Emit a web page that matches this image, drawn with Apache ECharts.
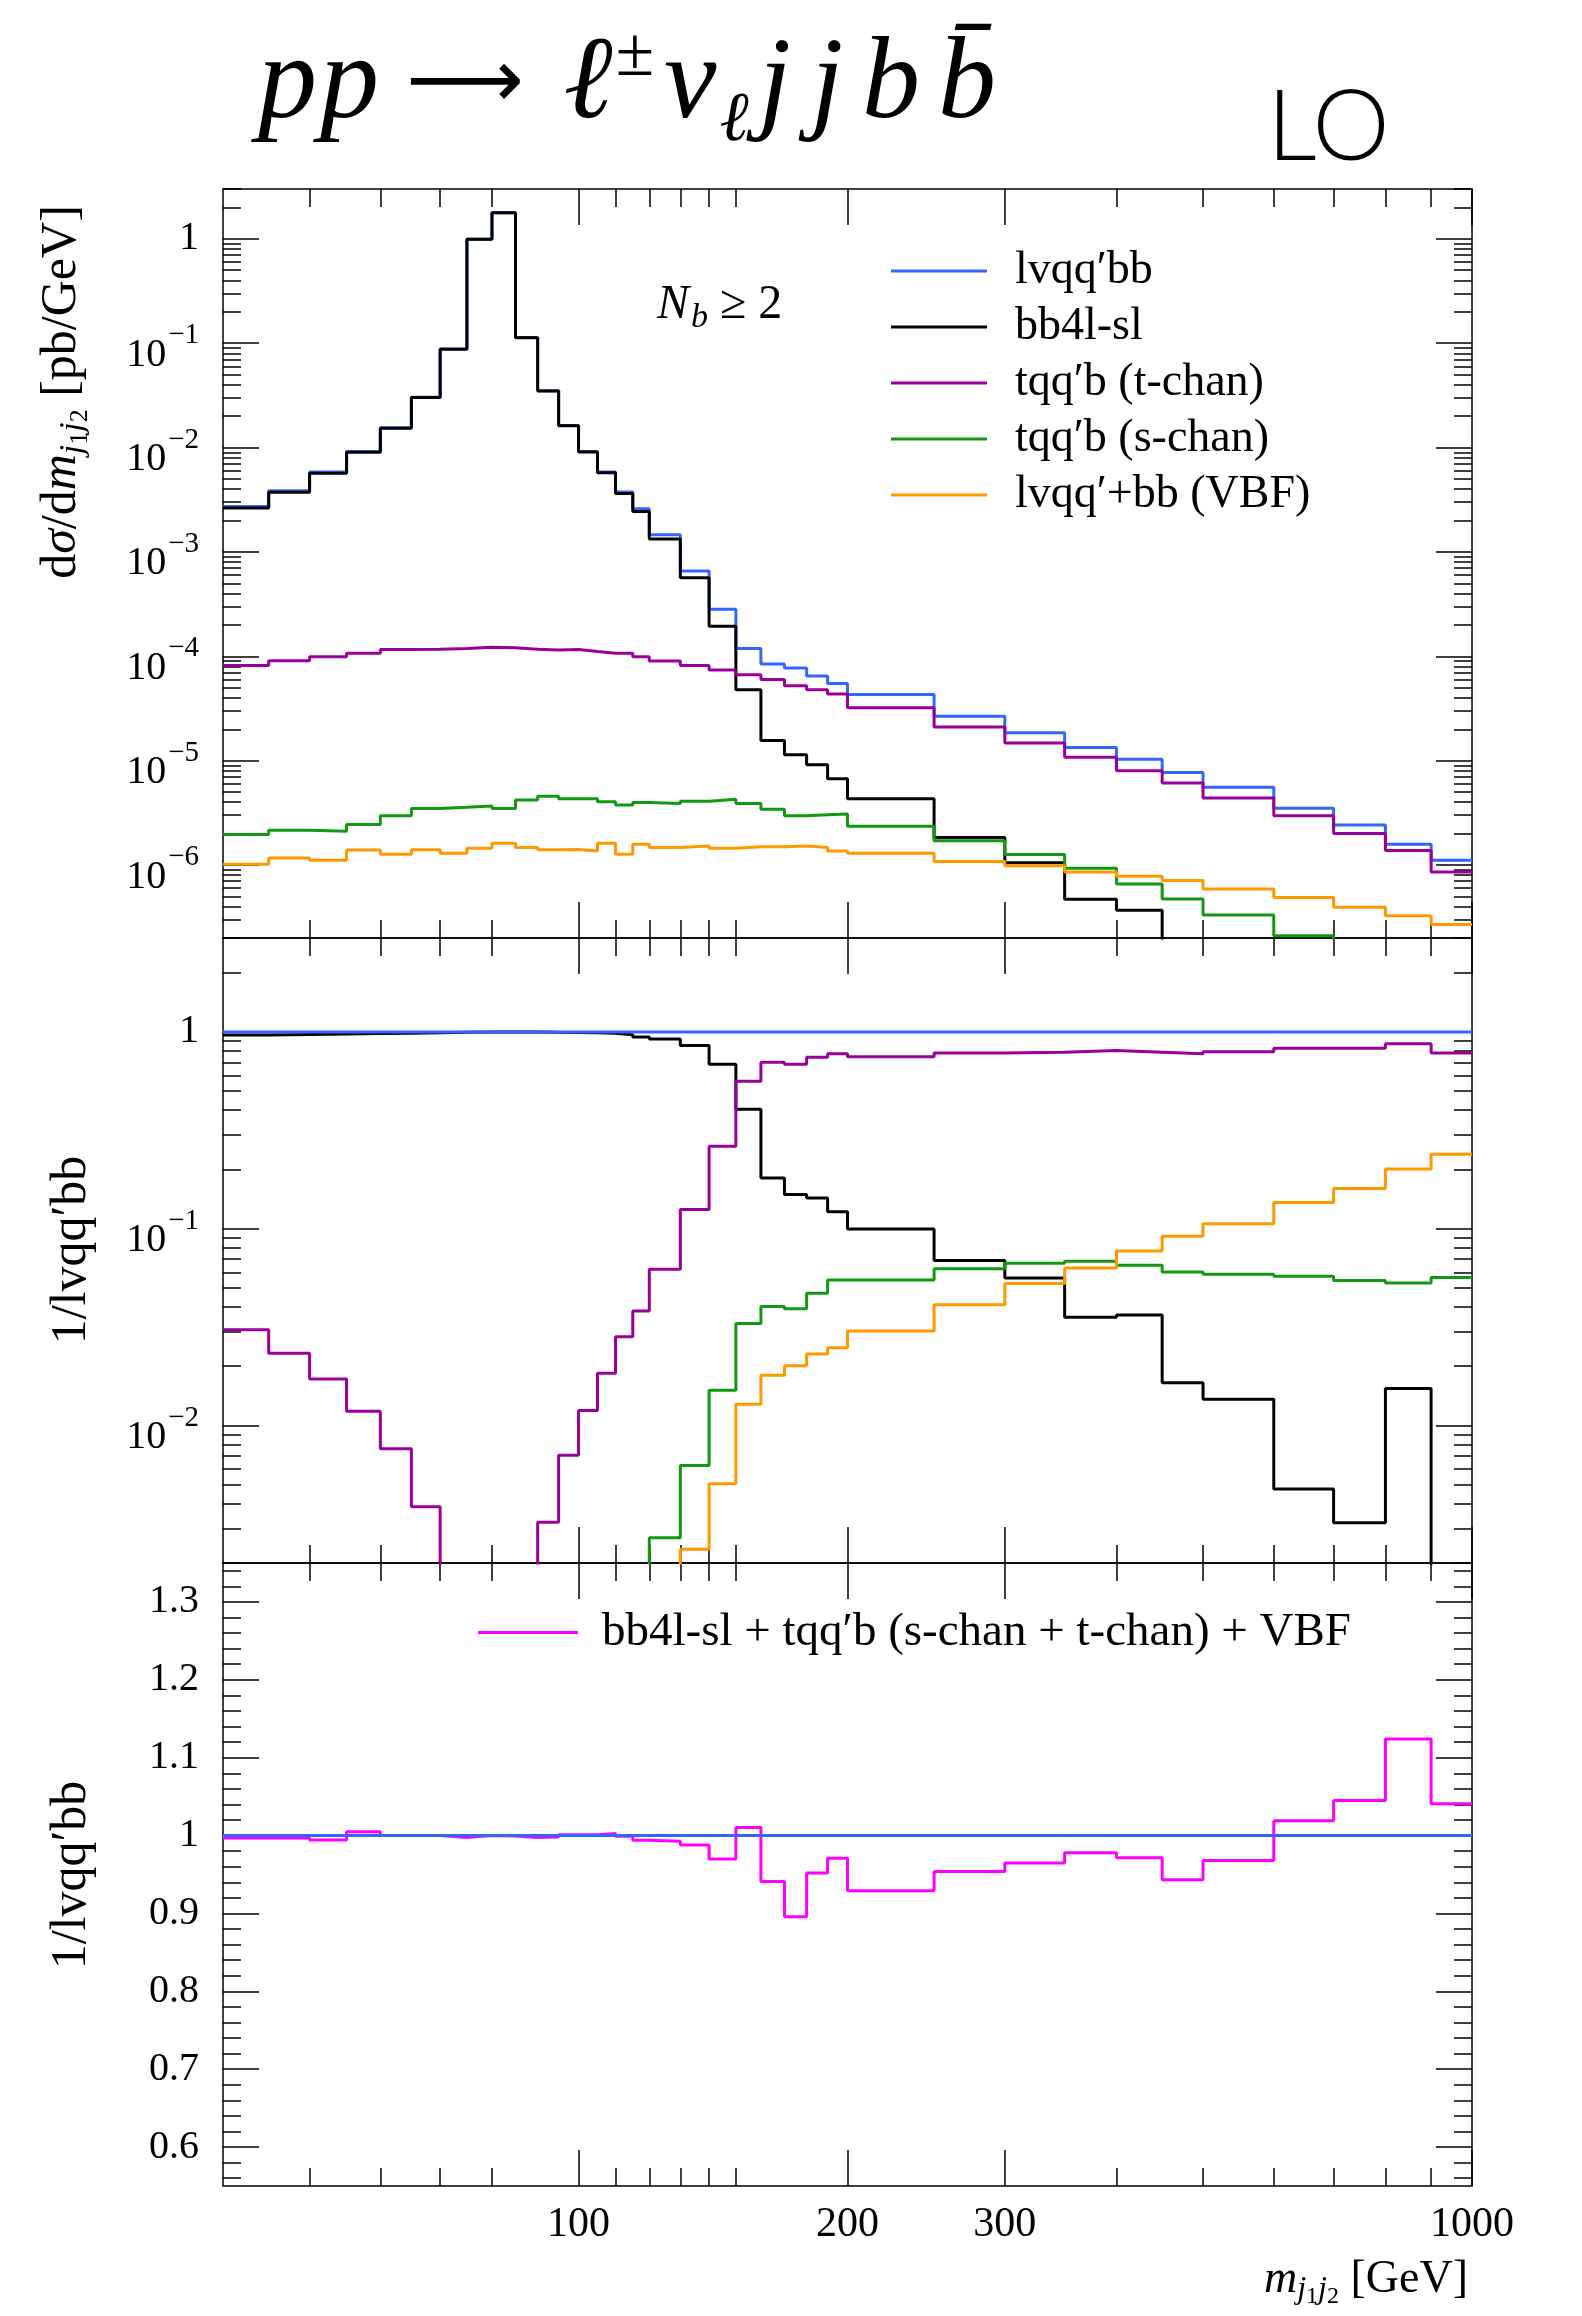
<!DOCTYPE html>
<html>
<head>
<meta charset="utf-8">
<script src="https://cdn.jsdelivr.net/npm/echarts@6/dist/echarts.min.js"></script>
<style>
  html, body { margin: 0; padding: 0; background: #fff; }
  #chart { width: 1582px; height: 2316px; }
</style>
</head>
<body>
<div id="chart"></div>
<script>
// bin edges in m_j1j2 [GeV]
const binEdges = [40, 45, 50, 55, 60, 65, 70, 75, 80, 85, 90, 95, 100, 105, 110, 115, 120,
  130, 140, 150, 160, 170, 180, 190, 200, 250, 300, 350, 400, 450, 500, 600, 700, 800, 900, 1000];

// dsigma/dm [pb/GeV], one value per bin
const lvqqbb = [2.73e-3, 3.86e-3, 5.83e-3, 9.17e-3, 1.55e-2, 3.04e-2, 8.79e-2, 0.992, 1.78, 0.1132,
  3.51e-2, 1.63e-2, 9.17e-3, 5.83e-3, 3.76e-3, 2.59e-3, 1.46e-3, 6.56e-4, 2.82e-4, 1.19e-4,
  8.43e-5, 7.74e-5, 6.46e-5, 5.50e-5, 4.30e-5, 2.66e-5, 1.85e-5, 1.34e-5, 1.03e-5, 7.7e-6,
  5.55e-6, 3.51e-6, 2.42e-6, 1.58e-6, 1.11e-6];
const bb4lsl = [2.63e-3, 3.74e-3, 5.68e-3, 8.99e-3, 1.53e-2, 3.01e-2, 8.75e-2, 0.99, 1.78, 0.113,
  3.49e-2, 1.62e-2, 9.08e-3, 5.74e-3, 3.63e-3, 2.44e-3, 1.33e-3, 5.65e-4, 1.94e-4, 4.79e-5,
  1.56e-5, 1.14e-5, 9.14e-6, 6.70e-6, 4.32e-6, 1.84e-6, 1.05e-6, 4.7e-7, 3.68e-7, 1.3e-7,
  7.5e-8, 1.7e-8, 7.7e-9, 2.4e-8, 1e-12];
const tchan = [8.16e-5, 9.08e-5, 9.89e-5, 1.07e-4, 1.16e-4, 1.17e-4, 1.19e-4, 1.22e-4, 1.21e-4, 1.17e-4,
  1.15e-4, 1.16e-4, 1.11e-4, 1.07e-4, 1.07e-4, 9.89e-5, 8.99e-5, 8.16e-5, 7.41e-5, 6.67e-5,
  5.99e-5, 5.21e-5, 4.79e-5, 4.35e-5, 3.22e-5, 2.10e-5, 1.48e-5, 1.08e-5, 8.0e-6, 6.1e-6,
  4.38e-6, 2.97e-6, 2.01e-6, 1.38e-6, 8.6e-7];
const schan = [1.96e-6, 2.16e-6, 2.11e-6, 2.45e-6, 2.97e-6, 3.49e-6, 3.57e-6, 3.68e-6, 3.49e-6, 4.19e-6,
  4.56e-6, 4.32e-6, 4.32e-6, 4.04e-6, 3.76e-6, 3.97e-6, 3.88e-6, 4.09e-6, 4.27e-6, 3.88e-6,
  3.42e-6, 2.97e-6, 3.04e-6, 3.08e-6, 2.35e-6, 1.71e-6, 1.26e-6, 9.3e-7, 6.58e-7, 4.73e-7,
  3.33e-7, 2.1e-7, 1.31e-7, 8.4e-8, 6.3e-8];
const vbf = [1.02e-6, 1.17e-6, 1.11e-6, 1.39e-6, 1.27e-6, 1.40e-6, 1.30e-6, 1.45e-6, 1.62e-6, 1.47e-6,
  1.40e-6, 1.41e-6, 1.36e-6, 1.62e-6, 1.27e-6, 1.58e-6, 1.47e-6, 1.52e-6, 1.45e-6, 1.50e-6,
  1.50e-6, 1.52e-6, 1.47e-6, 1.36e-6, 1.30e-6, 1.08e-6, 9.85e-7, 8.6e-7, 7.8e-7, 7.1e-7,
  5.89e-7, 4.9e-7, 3.94e-7, 3.26e-7, 2.69e-7];

// ratios to lvqq'bb (middle panel)
const ratioLvqqbb = [1, 1, 1, 1, 1, 1, 1, 1, 1, 1, 1, 1, 1, 1, 1, 1, 1, 1, 1, 1,
  1, 1, 1, 1, 1, 1, 1, 1, 1, 1, 1, 1, 1, 1, 1];
const ratioBb4l = [0.965, 0.97, 0.975, 0.98, 0.985, 0.99, 0.995, 0.998, 0.999, 0.998,
  0.995, 0.993, 0.99, 0.985, 0.966, 0.943, 0.92, 0.854, 0.684, 0.404,
  0.181, 0.149, 0.143, 0.122, 0.0996, 0.069, 0.0562, 0.0355, 0.0364, 0.0165,
  0.0136, 0.00475, 0.0032, 0.0154, 1e-5];
const ratioTchan = [0.0306, 0.0233, 0.0172, 0.0118, 0.00762, 0.00386, 0.0013, 0.00012, 0.000068, 0.00104,
  0.00322, 0.00705, 0.0119, 0.0184, 0.0282, 0.0382, 0.0622, 0.125, 0.262, 0.562,
  0.701, 0.684, 0.744, 0.774, 0.748, 0.782, 0.789, 0.805, 0.789, 0.774,
  0.793, 0.825, 0.825, 0.871, 0.782];
const ratioSchan = [7.2e-4, 5.6e-4, 3.6e-4, 2.7e-4, 1.9e-4, 1.15e-4, 4.1e-5, 3.7e-6, 2.0e-6, 3.7e-5,
  1.3e-4, 2.65e-4, 4.7e-4, 6.9e-4, 1.0e-3, 1.53e-3, 0.00269, 0.00626, 0.0151, 0.033,
  0.0402, 0.0392, 0.047, 0.0548, 0.0548, 0.0626, 0.0667, 0.0684, 0.0651, 0.0602,
  0.0587, 0.0573, 0.0545, 0.053, 0.0564];
const ratioVbf = [3.7e-4, 3.0e-4, 1.9e-4, 1.5e-4, 8.2e-5, 4.6e-5, 1.5e-5, 1.5e-6, 9e-7, 1.3e-5,
  4e-5, 8.7e-5, 1.5e-4, 2.8e-4, 3.4e-4, 6.1e-4, 1.0e-3, 0.00235, 0.00506, 0.0128,
  0.018, 0.0201, 0.0231, 0.0248, 0.0302, 0.041, 0.0527, 0.0632, 0.077, 0.0915,
  0.106, 0.136, 0.16, 0.201, 0.239];

// sum of contributions / lvqq'bb (bottom panel)
const ratioSum = [0.997, 0.997, 0.9944, 1.005, 1.0, 1.0, 0.9975, 1.0, 0.9995, 0.9975,
  0.998, 1.001, 1.001, 1.0025, 0.999, 0.994, 0.9926, 0.988, 0.970, 1.0105,
  0.941, 0.8956, 0.952, 0.971, 0.929, 0.9537, 0.9648, 0.9778, 0.9716, 0.9432,
  0.9679, 1.0191, 1.045, 1.124, 1.0408];

// ticks
const xMajorTicks = [100, 200, 300, 1000];
const xMinorTicks = [50, 60, 70, 80, 110, 120, 130, 140, 150, 400, 500, 600, 700, 800, 900];
const xTickLabels = [100, 200, 300, 1000];
const mainDecades = [-6, -5, -4, -3, -2, -1, 0];
const ratioDecades = [-2, -1, 0];
const sumTickLabels = [0.6, 0.7, 0.8, 0.9, 1.0, 1.1, 1.2, 1.3];

const SERIF = "'Liberation Serif', 'Times New Roman', serif";
const C_BLUE = '#3366ff', C_BLACK = '#000000', C_PURPLE = '#990099',
  C_GREEN = '#119911', C_ORANGE = '#ff9900', C_MAGENTA = '#ff00ff';

const chart = echarts.init(document.getElementById('chart'));

// panel geometry
const panels = [
  { top: 189, height: 749 },
  { top: 938, height: 625 },
  { top: 1563, height: 623 }
];
const yLimits = [[2e-7, 3], [2e-3, 3], [0.55, 1.35]];
const yRange = [
  [Math.log10(2e-7), Math.log10(3)],
  [Math.log10(2e-3), Math.log10(3)],
  [0.55, 1.35]
];

function logMinor(lo, hi) {
  const out = [];
  for (let k = -8; k <= 1; k++) {
    for (let m = 2; m <= 9; m++) {
      const v = m * Math.pow(10, k);
      if (v >= lo * 0.999 && v <= hi * 1.001) out.push(Math.log10(v));
    }
  }
  return out;
}
const sumMinor = [];
for (let k = 28; k <= 67; k++) if (k % 5 !== 0) sumMinor.push(k * 0.02);

function histo(values) {
  const pts = values.map((v, i) => [binEdges[i], v]);
  pts.push([binEdges[binEdges.length - 1], values[values.length - 1]]);
  return pts;
}

function line(name, values, color, p) {
  return {
    type: 'line', name: name, xAxisIndex: p, yAxisIndex: p,
    data: histo(values), step: 'end', symbol: 'none', showSymbol: false,
    color: color, lineStyle: { color: color, width: 3 }, itemStyle: { color: color },
    clip: true, silent: true
  };
}

const logLabel = v => {
  const n = Math.round(v);
  return n === 0 ? '1' : '{b|10}{s|\u2212' + (-n) + '}';
};
const labelRich = {
  b: { fontFamily: SERIF, fontSize: 40, lineHeight: 40, color: '#000', padding: [24, 0, 0, 0] },
  s: { fontFamily: SERIF, fontSize: 29, lineHeight: 29, color: '#000', padding: [10, 0, 25, 2] }
};

const xAxis = [], yAxis = [];
panels.forEach((pn, p) => {
  xAxis.push({ type: 'log', logBase: 10, gridIndex: p, min: 40, max: 1000, show: false,
    axisLine: { onZero: false } });
  if (p < 2) {
    yAxis.push({ type: 'log', logBase: 10, gridIndex: p, min: yLimits[p][0], max: yLimits[p][1], show: false,
      axisLine: { onZero: false } });
  } else {
    yAxis.push({ type: 'value', gridIndex: p, min: 0.55, max: 1.35, show: false,
      axisLine: { onZero: false } });
  }
});

function tickAxis(dim, p, pos, vals, len, label) {
  const r = dim === 'x' ? [Math.log10(40), 3] : yRange[p];
  return {
    type: 'value', gridIndex: p, position: pos, min: r[0], max: r[1],
    axisLine: { show: false, onZero: false }, splitLine: { show: false },
    axisTick: { show: true, inside: true, length: len, customValues: vals, lineStyle: { color: '#000', width: 1.5 } },
    axisLabel: label || { show: false }
  };
}

panels.forEach((pn, p) => {
  const xMaj = xMajorTicks.map(Math.log10), xMin = xMinorTicks.map(Math.log10);
  const xLab = p === 2 ? {
    show: true, customValues: xTickLabels.map(Math.log10), margin: 18,
    formatter: v => String(Math.round(Math.pow(10, v))),
    fontFamily: SERIF, fontSize: 42, color: '#000'
  } : null;
  xAxis.push(tickAxis('x', p, 'bottom', xMaj, 36, xLab));
  xAxis.push(tickAxis('x', p, 'bottom', xMin, 18));
  xAxis.push(tickAxis('x', p, 'top', xMaj, 36));
  xAxis.push(tickAxis('x', p, 'top', xMin, 18));

  let yMaj, yMin, yLab;
  if (p < 2) {
    yMaj = p === 0 ? mainDecades : ratioDecades;
    yMin = logMinor(yLimits[p][0], yLimits[p][1]);
    yLab = {
      show: true, customValues: yMaj, margin: 24, formatter: logLabel, rich: labelRich,
      fontFamily: SERIF, fontSize: 40, lineHeight: 40, color: '#000'
    };
  } else {
    yMaj = sumTickLabels;
    yMin = sumMinor;
    yLab = {
      show: true, customValues: sumTickLabels, margin: 24,
      formatter: v => (Math.abs(v - 1) < 1e-9 ? '1' : v.toFixed(1)),
      fontFamily: SERIF, fontSize: 40, color: '#000'
    };
  }
  yAxis.push(tickAxis('y', p, 'left', yMaj, 36, yLab));
  yAxis.push(tickAxis('y', p, 'left', yMin, 18));
  yAxis.push(tickAxis('y', p, 'right', yMaj, 36));
  yAxis.push(tickAxis('y', p, 'right', yMin, 18));
});

const N_LVQQ = 'lvqq\u2032bb', N_BB4L = 'bb4l-sl', N_T = 'tqq\u2032b (t-chan)',
  N_S = 'tqq\u2032b (s-chan)', N_VBF = 'lvqq\u2032+bb (VBF)',
  N_SUM = 'bb4l-sl + tqq\u2032b (s-chan + t-chan) + VBF';

const series = [
  line(N_LVQQ, lvqqbb, C_BLUE, 0),
  line(N_BB4L, bb4lsl, C_BLACK, 0),
  line(N_T, tchan, C_PURPLE, 0),
  line(N_S, schan, C_GREEN, 0),
  line(N_VBF, vbf, C_ORANGE, 0),
  line(N_BB4L, ratioBb4l, C_BLACK, 1),
  line(N_T, ratioTchan, C_PURPLE, 1),
  line(N_S, ratioSchan, C_GREEN, 1),
  line(N_VBF, ratioVbf, C_ORANGE, 1),
  line(N_LVQQ, ratioLvqqbb, C_BLUE, 1),
  line(N_SUM, ratioSum, C_MAGENTA, 2),
  line(N_LVQQ, ratioLvqqbb, C_BLUE, 2)
];

const tok = o => Object.assign({ fontFamily: SERIF, fill: '#000' }, o);

const yNameRich = {
  r: tok({ fontSize: 50, lineHeight: 50 }),
  i: tok({ fontSize: 50, lineHeight: 50, fontStyle: 'italic' }),
  si: tok({ fontSize: 34, lineHeight: 34, fontStyle: 'italic', padding: [22, 0, 0, 0] }),
  ss: tok({ fontSize: 26, lineHeight: 26, padding: [36, 0, 0, 0] })
};
const xNameRich = {
  r: tok({ fontSize: 46, lineHeight: 46 }),
  i: tok({ fontSize: 46, lineHeight: 46, fontStyle: 'italic' }),
  si: tok({ fontSize: 32, lineHeight: 32, fontStyle: 'italic', padding: [20, 0, 0, 0] }),
  ss: tok({ fontSize: 24, lineHeight: 24, padding: [34, 0, 0, 0] })
};

const graphic = [
  {
    type: 'text', x: 258, y: 86, silent: true,
    style: {
      text: '{m|p}{m|p}{a|\u27f6}{m|\u2113}{sup|\u00b1}{m|\u03bd}{sub|\u2113}{mj|j}{mj|j}{mb|b}{mb|b\u0304}',
      verticalAlign: 'middle', align: 'left', fill: '#000',
      rich: {
        m: tok({ fontSize: 118, lineHeight: 116, fontStyle: 'italic', padding: [0, 3, 0, 0] }),
        mb: tok({ fontSize: 116, lineHeight: 116, fontStyle: 'italic', padding: [0, 9, 0, 9] }),
        mj: tok({ fontSize: 116, lineHeight: 116, fontStyle: 'italic', padding: [0, 10, 0, 10] }),
        a: tok({ fontFamily: "'DejaVu Sans', sans-serif", fontSize: 82, lineHeight: 116, padding: [0, 40, 0, 24] }),
        sup: tok({ fontSize: 70, lineHeight: 70, padding: [0, 10, 58, 0] }),
        sub: tok({ fontSize: 70, lineHeight: 70, fontStyle: 'italic', padding: [72, 0, 0, 0] })
      }
    }
  },
  {
    type: 'text', x: 1267, y: 128, silent: true,
    style: { text: 'LO', fontFamily: 'Lato, sans-serif', fontWeight: 300, fontSize: 98, fill: '#000', verticalAlign: 'middle' }
  },
  {
    type: 'text', x: 657, y: 305, silent: true,
    style: {
      text: '{i|N}{si|b}{r| \u2265 2}', verticalAlign: 'middle', fill: '#000',
      rich: {
        i: tok({ fontSize: 48, lineHeight: 48, fontStyle: 'italic' }),
        si: tok({ fontSize: 34, lineHeight: 34, fontStyle: 'italic', padding: [26, 0, 0, 2] }),
        r: tok({ fontSize: 48, lineHeight: 48 })
      }
    }
  },
  {
    type: 'text', x: 62, y: 392, rotation: Math.PI / 2, silent: true,
    style: {
      text: '{r|d}{i|\u03c3}{r|/d}{i|m}{si|j}{ss|1}{si|j}{ss|2}{r| [pb/GeV]}',
      align: 'center', verticalAlign: 'middle', fill: '#000', rich: yNameRich
    }
  },
  {
    type: 'text', x: 72, y: 1250, rotation: Math.PI / 2, silent: true,
    style: { text: '{r|1/lvqq\u2032bb}', align: 'center', verticalAlign: 'middle', fill: '#000', rich: yNameRich }
  },
  {
    type: 'text', x: 72, y: 1875, rotation: Math.PI / 2, silent: true,
    style: { text: '{r|1/lvqq\u2032bb}', align: 'center', verticalAlign: 'middle', fill: '#000', rich: yNameRich }
  },
  {
    type: 'text', x: 1468, y: 2280, silent: true,
    style: {
      text: '{i|m}{si|j}{ss|1}{si|j}{ss|2}{r| [GeV]}',
      align: 'right', verticalAlign: 'middle', fill: '#000', rich: xNameRich
    }
  }
];

const option = {
  animation: false,
  backgroundColor: '#ffffff',
  grid: panels.map(pn => ({
    left: 223, top: pn.top, width: 1249, height: pn.height,
    show: true, borderColor: '#000', borderWidth: 1.5, backgroundColor: 'transparent',
    containLabel: false, outerBoundsMode: 'none'
  })),
  xAxis: xAxis,
  yAxis: yAxis,
  legend: [
    {
      data: [N_LVQQ, N_BB4L, N_T, N_S, N_VBF],
      orient: 'vertical', left: 886, top: 243, icon: 'rect',
      itemWidth: 96, itemHeight: 3, itemGap: 10, selectedMode: false,
      textStyle: { fontFamily: SERIF, fontSize: 46, lineHeight: 46, color: '#000', padding: [0, 0, 0, 23] }
    },
    {
      data: [N_SUM],
      orient: 'vertical', left: 473, top: 1604, icon: 'rect',
      itemWidth: 100, itemHeight: 3, selectedMode: false,
      textStyle: { fontFamily: SERIF, fontSize: 47, lineHeight: 47, color: '#000', padding: [0, 0, 0, 19] }
    }
  ],
  graphic: graphic,
  series: series
};

chart.setOption(option);
</script>
</body>
</html>
